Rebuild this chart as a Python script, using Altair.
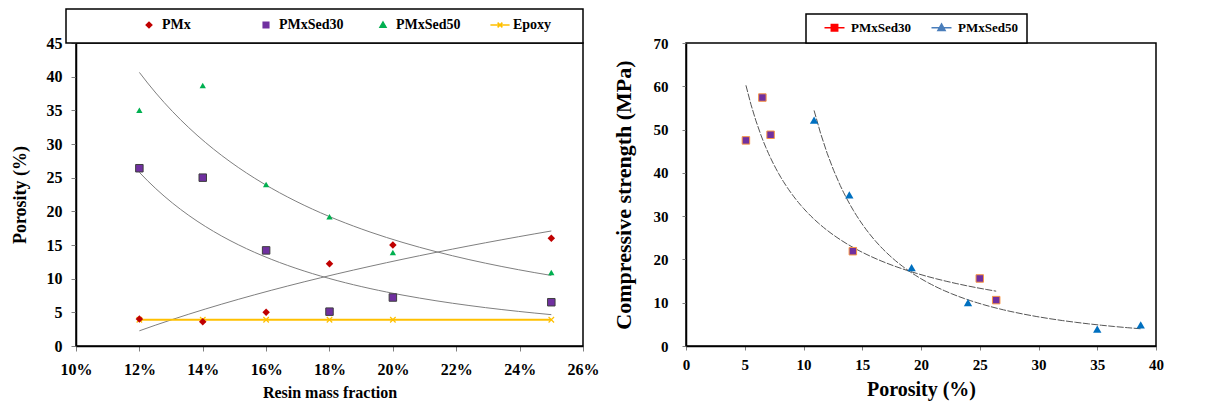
import altair as alt
import pandas as pd

SERIF = "Liberation Serif"

# Left panel: porosity (%) against resin mass fraction
resin = [0.12, 0.14, 0.16, 0.18, 0.20, 0.25]
por_pmx = [4.0, 3.6, 5.0, 12.2, 15.0, 16.0]
por_sed30 = [26.4, 25.0, 14.2, 5.1, 7.2, 6.5]
por_sed50 = [35.0, 38.7, 24.0, 19.2, 13.9, 10.9]
por_epoxy = [3.9, 3.9, 3.9, 3.9, 3.9, 3.9]

# Right panel: compressive strength (MPa) against porosity, same specimens
str_sed30 = [10.6, 15.6, 21.9, 47.5, 48.8, 57.4]
str_sed50 = [3.9, 4.9, 10.0, 18.1, 34.9, 52.2]

left_series = ["PMx", "PMxSed30", "PMxSed50", "Epoxy"]
right_series = ["PMxSed30", "PMxSed50"]

left_df = pd.DataFrame({
    "resin": resin * 4,
    "porosity": por_pmx + por_sed30 + por_sed50 + por_epoxy,
    "series": [s for s in left_series for _ in resin],
})
right_df = pd.DataFrame({
    "porosity": por_sed30 + por_sed50,
    "strength": str_sed30 + str_sed50,
    "series": ["PMxSed30"] * 6 + ["PMxSed50"] * 6,
})

X_MARK = "M-1,-1L1,1M-1,1L1,-1"


def frame(x, x2, y, y2):
    """White boxed panel drawn behind a legend."""
    return alt.Chart(pd.DataFrame({"k": [0]})).mark_rect(
        fill="white", stroke="black", strokeWidth=1.5
    ).encode(x=alt.value(x), x2=alt.value(x2), y=alt.value(y), y2=alt.value(y2))


def only(name):
    return alt.datum.series == name


# ---------------- left panel ----------------
lbase = alt.Chart(left_df).encode(
    x=alt.X("resin:Q",
            scale=alt.Scale(domain=[0.10, 0.26], nice=False),
            axis=alt.Axis(values=[0.10, 0.12, 0.14, 0.16, 0.18, 0.20, 0.22, 0.24, 0.26],
                          format=".0%", title="Resin mass fraction",
                          labelFontSize=16, titleFontSize=16,
                          tickSize=5, labelPadding=10, titlePadding=7)),
    y=alt.Y("porosity:Q",
            scale=alt.Scale(domain=[0, 45], nice=False),
            axis=alt.Axis(values=list(range(0, 46, 5)), title="Porosity (%)",
                          labelFontSize=16, titleFontSize=18,
                          tickSize=5, labelPadding=9, titlePadding=17)),
)

trend_style = dict(color="#7f7f7f", strokeWidth=1)
l_trend_pmx = lbase.transform_filter(only("PMx")).transform_regression(
    "resin", "porosity", method="log").mark_line(**trend_style)
l_trend_s30 = lbase.transform_filter(only("PMxSed30")).transform_regression(
    "resin", "porosity", method="pow").mark_line(**trend_style)
l_trend_s50 = lbase.transform_filter(only("PMxSed50")).transform_regression(
    "resin", "porosity", method="pow").mark_line(**trend_style)

l_epoxy_line = lbase.transform_filter(only("Epoxy")).mark_line(color="#FFC000", strokeWidth=2)
l_epoxy_pts = lbase.transform_filter(only("Epoxy")).mark_point(
    shape=X_MARK, filled=False, color="#FFC000", size=30, strokeWidth=1.2, opacity=1)
l_pmx = lbase.transform_filter(only("PMx")).mark_point(
    shape="diamond", filled=True, color="#C00000", size=56, opacity=1)
l_s30 = lbase.transform_filter(only("PMxSed30")).mark_point(
    shape="square", filled=True, color="#7030A0", stroke="#3F3F3F", strokeWidth=1,
    size=56, opacity=1)
l_s50 = lbase.transform_filter(only("PMxSed50")).mark_point(
    shape="triangle-up", filled=True, color="#00B050", size=40, opacity=1)

left_colors = ["#C00000", "#7030A0", "#00B050", "#FFC000"]
left_shapes = [
    "M-0.7,0L0,-0.7L0.7,0L0,0.7Z",
    "M-0.7,-0.7L0.7,-0.7L0.7,0.7L-0.7,0.7Z",
    "M0,-0.75L0.75,0.55L-0.75,0.55Z",
    "M-2.4,0L2.4,0M-0.6,-0.6L0.6,0.6M-0.6,0.6L0.6,-0.6",
]
left_legend = alt.Legend(
    title=None, orient="none", legendX=66, legendY=-25, direction="horizontal",
    columns=4, gridAlign="all", columnPadding=26, padding=0,
    labelFont=SERIF, labelFontSize=14, labelFontWeight="bold", labelColor="black",
    labelOffset=6, symbolSize=64, symbolStrokeWidth=1.5,
)
l_legend = lbase.transform_filter("false").mark_point(filled=True, opacity=1).encode(
    color=alt.Color("series:N", scale=alt.Scale(domain=left_series, range=left_colors),
                    legend=left_legend),
    stroke=alt.Stroke("series:N", scale=alt.Scale(domain=left_series, range=left_colors),
                      legend=left_legend),
    shape=alt.Shape("series:N", scale=alt.Scale(domain=left_series, range=left_shapes),
                    legend=left_legend),
)

left = alt.layer(
    frame(-10, 507, -34, 0),
    l_trend_pmx, l_trend_s30, l_trend_s50,
    l_epoxy_line, l_epoxy_pts, l_pmx, l_s30, l_s50,
    l_legend,
).properties(width=507, height=303)

# ---------------- right panel ----------------
rbase = alt.Chart(right_df).encode(
    x=alt.X("porosity:Q",
            scale=alt.Scale(domain=[0, 40], nice=False),
            axis=alt.Axis(values=list(range(0, 41, 5)), title="Porosity (%)",
                          labelFontSize=15, titleFontSize=20,
                          tickSize=4, labelPadding=7, titlePadding=7)),
    y=alt.Y("strength:Q",
            scale=alt.Scale(domain=[0, 70], nice=False),
            axis=alt.Axis(values=list(range(0, 71, 10)), title="Compressive strength (MPa)",
                          labelFontSize=15, titleFontSize=22,
                          tickSize=4, labelPadding=14, titlePadding=18)),
)

rtrend_style = dict(color="#555555", strokeWidth=1, strokeDash=[7, 1.5])
r_trend_s30 = rbase.transform_filter(only("PMxSed30")).transform_regression(
    "porosity", "strength", method="pow").mark_line(**rtrend_style)
r_trend_s50 = rbase.transform_filter(only("PMxSed50")).transform_regression(
    "porosity", "strength", method="pow").mark_line(**rtrend_style)

r_s30 = rbase.transform_filter(only("PMxSed30")).mark_point(
    shape="square", filled=True, color="#7030A0", stroke="#F79646", strokeWidth=1,
    size=56, opacity=1)
r_s50 = rbase.transform_filter(only("PMxSed50")).mark_point(
    shape="triangle-up", filled=True, color="#0070C0", size=70, opacity=1)

right_colors = ["#FF0000", "#4A7EBB"]
right_shapes = [
    "M-2.5,0L2.5,0M-0.8,-0.8L0.8,-0.8L0.8,0.8L-0.8,0.8Z",
    "M-2.5,0L2.5,0M0,-0.95L0.9,0.7L-0.9,0.7Z",
]
right_legend = alt.Legend(
    title=None, orient="none", legendX=142, legendY=-22, direction="horizontal",
    columns=2, gridAlign="all", columnPadding=17, padding=0,
    labelFont=SERIF, labelFontSize=13, labelFontWeight="bold", labelColor="black",
    labelOffset=10, symbolSize=64, symbolStrokeWidth=1.5,
)
r_legend = rbase.transform_filter("false").mark_point(filled=True, opacity=1).encode(
    color=alt.Color("series:N", scale=alt.Scale(domain=right_series, range=right_colors),
                    legend=right_legend),
    stroke=alt.Stroke("series:N", scale=alt.Scale(domain=right_series, range=right_colors),
                      legend=right_legend),
    shape=alt.Shape("series:N", scale=alt.Scale(domain=right_series, range=right_shapes),
                    legend=right_legend),
)

right = alt.layer(
    frame(120, 341, -29, 0),
    r_trend_s30, r_trend_s50, r_s30, r_s50,
    r_legend,
).properties(width=470, height=303)

chart = alt.hconcat(left, right, spacing=103, bounds="flush").resolve_scale(
    color="independent", stroke="independent", shape="independent"
).resolve_legend(
    color="independent", stroke="independent", shape="independent"
).properties(
    padding={"left": 10, "top": 7, "right": 0, "bottom": 0},
    background="white",
).configure_view(
    stroke="black", strokeWidth=1.5
).configure_axis(
    grid=False, labelFlush=False,
    labelFont=SERIF, labelFontWeight="bold", labelColor="black",
    titleFont=SERIF, titleFontWeight="bold", titleColor="black",
    domainColor="black", domainWidth=1.5,
    tickColor="#808080", tickWidth=1,
)

chart.save("out.html", embed_options={"renderer": "svg", "actions": False})
